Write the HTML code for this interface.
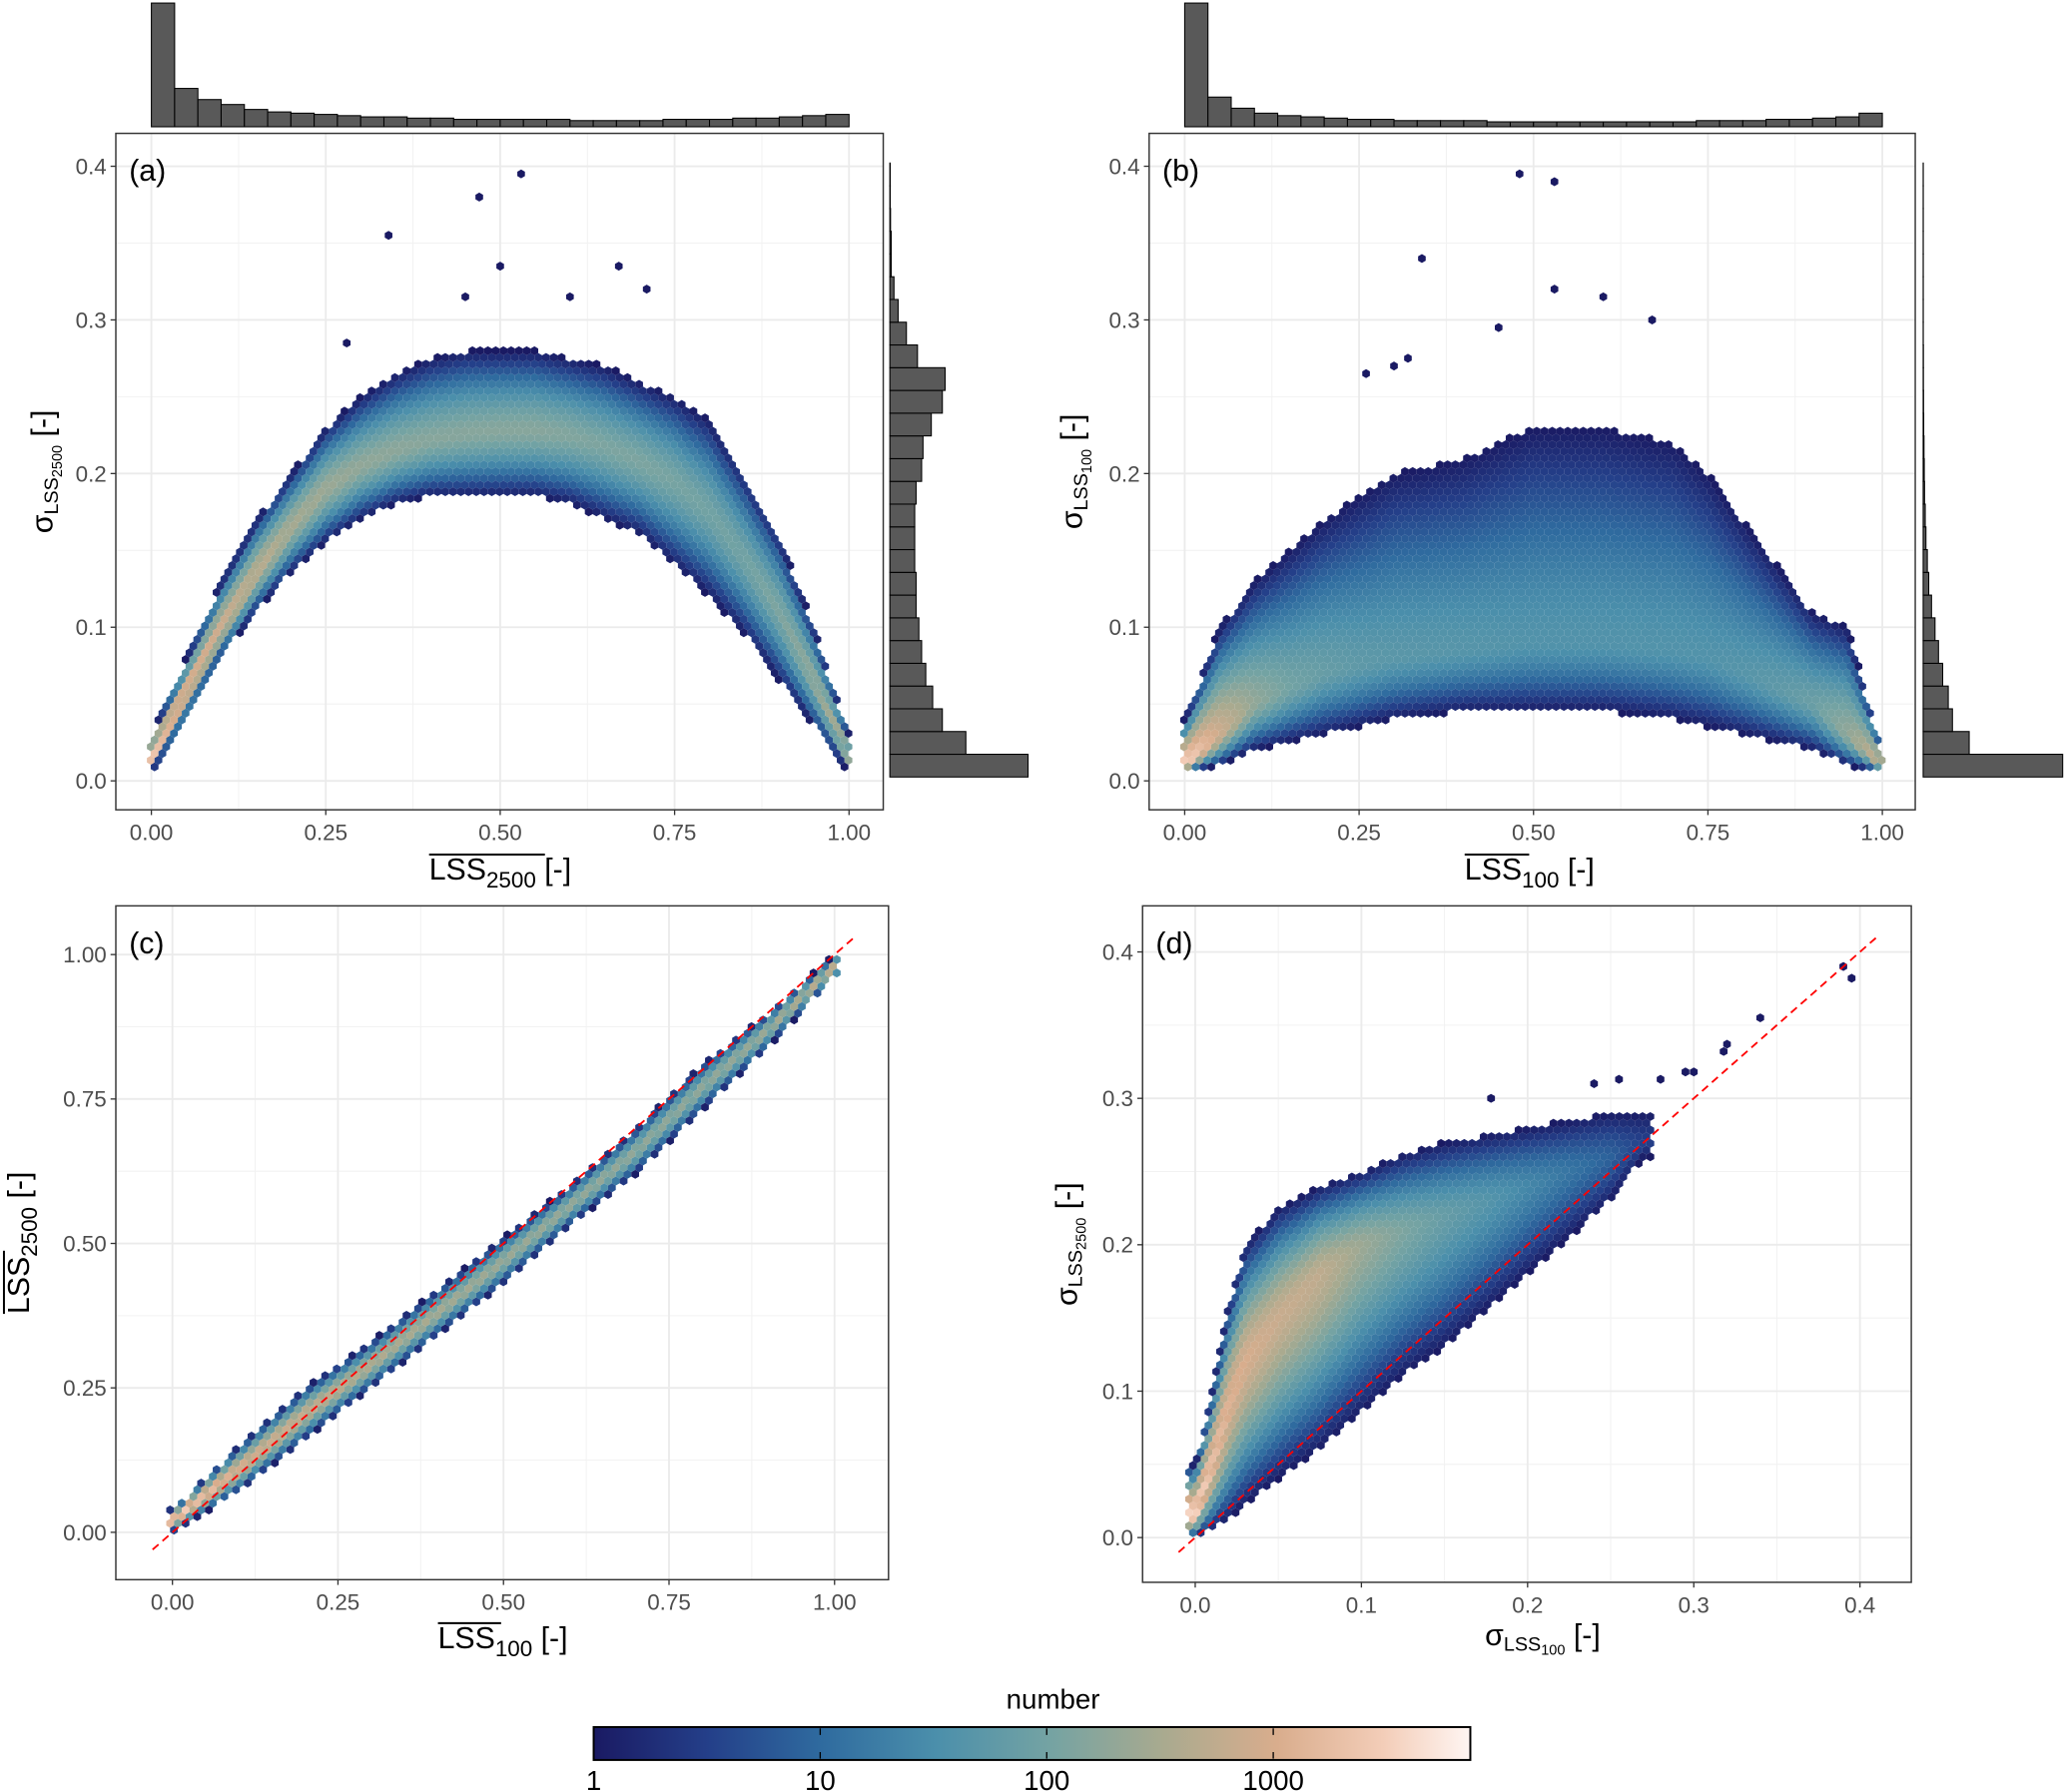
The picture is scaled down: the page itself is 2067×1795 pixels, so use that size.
<!DOCTYPE html>
<html><head><meta charset="utf-8">
<style>
html,body{margin:0;padding:0;background:#fff;}
svg{display:block;font-family:"Liberation Sans",sans-serif;}
.tick{font-size:17px;fill:#4d4d4d;}
.ttl{font-size:22px;fill:#000;}
</style></head>
<body>
<svg id="fig" width="2067" height="1795" viewBox="0 0 1568 1361" xmlns="http://www.w3.org/2000/svg">
<defs>
<linearGradient id="cbg" x1="0" x2="1" y1="0" y2="0">
<stop offset="0" stop-color="#1a1a63"/><stop offset="0.13" stop-color="#243f89"/><stop offset="0.26" stop-color="#2f6b9f"/><stop offset="0.39" stop-color="#4b8fab"/><stop offset="0.52" stop-color="#74a3a3"/><stop offset="0.65" stop-color="#a9aa8f"/><stop offset="0.78" stop-color="#d9ad8d"/><stop offset="0.9" stop-color="#f3cdb8"/><stop offset="1" stop-color="#fff5f2"/>
</linearGradient>
</defs>
<g id="layer"></g>
</svg>
<script>
// ---------- DATA ----------
const aX  = [0,0.05,0.1,0.15,0.2,0.25,0.3,0.35,0.4,0.45,0.5,0.55,0.6,0.65,0.7,0.75,0.8,0.85,0.9,0.95,1.0];
const aLo = [0.005,0.04,0.08,0.11,0.135,0.155,0.17,0.18,0.185,0.185,0.185,0.185,0.18,0.17,0.16,0.14,0.12,0.095,0.065,0.035,0.005];
const aHi = [0.03,0.08,0.13,0.17,0.2,0.23,0.25,0.265,0.275,0.28,0.28,0.28,0.275,0.27,0.26,0.25,0.235,0.2,0.16,0.1,0.03];
const aCe = [0.015,0.058,0.1,0.135,0.165,0.19,0.205,0.215,0.222,0.226,0.228,0.228,0.225,0.218,0.208,0.195,0.175,0.145,0.11,0.065,0.015];
const aPk = [3.5,3.2,2.9,2.7,2.5,2.4,2.3,2.25,2.2,2.2,2.2,2.2,2.15,2.1,2.1,2.05,2.0,2.0,2.1,2.3,2.6];
const aOutX = [0.34,0.47,0.53,0.5,0.67,0.71,0.6,0.45,0.28];
const aOutY = [0.355,0.38,0.395,0.335,0.335,0.32,0.315,0.315,0.285];
const aTop = [1,0.31,0.22,0.18,0.14,0.12,0.11,0.10,0.09,0.08,0.08,0.07,0.07,0.06,0.06,0.06,0.06,0.06,0.05,0.05,0.05,0.05,0.06,0.06,0.06,0.07,0.07,0.08,0.09,0.1];
const aRight = [1,0.55,0.38,0.31,0.26,0.23,0.21,0.19,0.19,0.18,0.18,0.18,0.19,0.23,0.24,0.3,0.38,0.4,0.2,0.12,0.06,0.03,0.01,0.01,0.005,0.003,0.003];
const bX  = [0,0.05,0.1,0.15,0.2,0.25,0.3,0.4,0.5,0.6,0.7,0.75,0.8,0.85,0.9,0.95,1.0];
const bLo = [0.005,0.01,0.02,0.025,0.03,0.035,0.04,0.045,0.045,0.045,0.04,0.035,0.03,0.025,0.02,0.01,0.005];
const bHi = [0.04,0.1,0.13,0.15,0.17,0.185,0.2,0.21,0.23,0.23,0.22,0.2,0.17,0.14,0.11,0.1,0.02];
const bCe = [0.01,0.03,0.05,0.06,0.07,0.075,0.08,0.085,0.09,0.09,0.085,0.08,0.07,0.06,0.05,0.03,0.01];
const bPk = [3.6,2.9,2.3,2.0,1.85,1.75,1.7,1.65,1.6,1.6,1.6,1.6,1.65,1.75,1.9,2.3,2.9];
const bOutX = [0.48,0.53,0.53,0.34,0.6,0.67,0.26,0.3,0.32,0.45];
const bOutY = [0.395,0.39,0.32,0.34,0.315,0.3,0.265,0.27,0.275,0.295];
const bTop = [1,0.24,0.15,0.11,0.09,0.08,0.07,0.06,0.06,0.05,0.05,0.05,0.05,0.04,0.04,0.04,0.04,0.04,0.04,0.04,0.04,0.04,0.05,0.05,0.05,0.06,0.06,0.07,0.08,0.11];
const bRight = [1,0.33,0.21,0.18,0.14,0.11,0.085,0.06,0.04,0.03,0.02,0.015,0.01,0.008,0.006,0.004,0.003,0.002,0.002,0.001,0.001,0.001,0.001,0.001,0.001,0.001,0.001];
const cX  = [0,0.1,0.2,0.3,0.4,0.5,0.6,0.7,0.8,0.9,1.0];
const cLo = [0.0,0.07,0.16,0.25,0.34,0.43,0.53,0.62,0.73,0.84,0.96];
const cHi = [0.04,0.15,0.25,0.33,0.42,0.51,0.6,0.7,0.81,0.9,1.0];
const cCe = [0.02,0.11,0.205,0.29,0.38,0.47,0.565,0.66,0.77,0.87,0.98];
const cPk = [3.6,3.0,2.8,2.6,2.5,2.4,2.35,2.3,2.3,2.4,2.8];
const dX  = [0,0.01,0.02,0.03,0.05,0.075,0.1,0.125,0.15,0.175,0.2,0.225,0.25,0.27];
const dLo = [0.0,0.005,0.012,0.022,0.04,0.06,0.085,0.11,0.13,0.155,0.18,0.205,0.23,0.26];
const dHi = [0.05,0.1,0.16,0.2,0.225,0.24,0.25,0.262,0.27,0.275,0.28,0.285,0.29,0.29];
const dCe = [0.015,0.05,0.09,0.12,0.15,0.18,0.2,0.21,0.22,0.23,0.24,0.25,0.26,0.27];
const dPk = [3.6,3.3,3.1,3.0,2.85,2.75,2.4,2.1,1.85,1.65,1.4,1.15,0.9,0.5];
const dOutX = [0.39,0.395,0.34,0.32,0.318,0.295,0.3,0.28,0.255,0.24,0.178];
const dOutY = [0.39,0.382,0.355,0.337,0.332,0.318,0.318,0.313,0.313,0.31,0.3];
const cbTicks = [1,10,100,1000];
const cbLabels = ["1","10","100","1000"];

// ---------- HELPERS ----------
const NS="http://www.w3.org/2000/svg";
const layer=document.getElementById('layer');
function mk(tag,attrs,parent){const e=document.createElementNS(NS,tag);for(const k in attrs)e.setAttribute(k,attrs[k]);(parent||layer).appendChild(e);return e;}
function lin(d0,d1,p0,p1){const f=v=>p0+(v-d0)*(p1-p0)/(d1-d0);f.inv=p=>d0+(p-p0)*(d1-d0)/(p1-p0);return f;}
function interp(xs,ys,x){if(x<=xs[0])return ys[0];const n=xs.length;if(x>=xs[n-1])return ys[n-1];for(let i=1;i<n;i++){if(x<=xs[i]){const t=(x-xs[i-1])/(xs[i]-xs[i-1]);return ys[i-1]+t*(ys[i]-ys[i-1]);}}}
const stops=[[0,[26,26,99]],[0.13,[36,63,137]],[0.26,[47,107,159]],[0.39,[75,143,171]],[0.52,[116,163,163]],[0.65,[169,170,143]],[0.78,[217,173,141]],[0.9,[243,205,184]],[1,[255,245,242]]];
function cmap(t){t=Math.max(0,Math.min(1,t));for(let i=1;i<stops.length;i++){if(t<=stops[i][0]){const a=stops[i-1],b=stops[i];const u=(t-a[0])/(b[0]-a[0]);const c=a[1].map((v,k)=>Math.round(v+u*(b[1][k]-v)));return `rgb(${c[0]},${c[1]},${c[2]})`;}}return 'rgb(255,245,242)';}
const LOGMAX=3.87;
const R=3.4, HW=Math.sqrt(3)*R;
function hexPath(cx,cy){let s='';for(let k=0;k<6;k++){const a=Math.PI/180*(60*k-90);s+=(k?'L':'M')+(cx+R*Math.cos(a)).toFixed(1)+','+(cy+R*Math.sin(a)).toFixed(1);}return s+'Z';}

function panelFrame(P,name,xt,xl,yt,yl,minorX,minorY){
  const g=mk('g',{});
  
  
  const bg=mk('rect',{x:P.l,y:P.t,width:P.r-P.l,height:P.b-P.t,fill:'#fff'},g);
  
  
  minorX.forEach(v=>{const l=mk('line',{x1:P.x(v),x2:P.x(v),y1:P.t,y2:P.b,stroke:'#f2f2f2','stroke-width':0.8},g);});
  minorY.forEach(v=>{const l=mk('line',{y1:P.y(v),y2:P.y(v),x1:P.l,x2:P.r,stroke:'#f2f2f2','stroke-width':0.8},g);});
  xt.forEach((v,i)=>{const l=mk('line',{x1:P.x(v),x2:P.x(v),y1:P.t,y2:P.b,stroke:'#ebebeb','stroke-width':1.4},g);
    const tk=mk('line',{x1:P.x(v),x2:P.x(v),y1:P.b,y2:P.b+4,stroke:'#333','stroke-width':1},g);
    const t=mk('text',{x:P.x(v),y:P.b+23,'text-anchor':'middle',class:'tick'},g);t.textContent=xl[i];});
  yt.forEach((v,i)=>{const l=mk('line',{y1:P.y(v),y2:P.y(v),x1:P.l,x2:P.r,stroke:'#ebebeb','stroke-width':1.4},g);
    const tk=mk('line',{y1:P.y(v),y2:P.y(v),x1:P.l-4,x2:P.l,stroke:'#333','stroke-width':1},g);
    const t=mk('text',{x:P.l-7,y:P.y(v)+6,'text-anchor':'end',class:'tick'},g);t.textContent=yl[i];});
  return g;
}
function hexes(P,g,xs,lo,hi,ce,pk){
  const hg=mk('g',{},g);
  
  
  let j=0;
  for(let py=P.b-2;py>P.t;py-=1.5*R,j++){
    const off=(j%2)*HW/2;
    for(let px=P.l+off;px<P.r;px+=HW){
      const dx=P.x.inv(px),dy=P.y.inv(py);
      if(dx<xs[0]-0.004||dx>xs[xs.length-1]+0.004)continue;
      const l=interp(xs,lo,dx),u=interp(xs,hi,dx),c=interp(xs,ce,dx);
      if(dy<l||dy>u)continue;
      const d=dy>c?(dy-c)/(u-c):(c-dy)/(c-l);
      const lg=interp(xs,pk,dx)*(1-Math.pow(Math.min(1,d),1.5));
      const h=mk('path',{d:hexPath(px,py),fill:cmap(lg/LOGMAX)},hg);
      
      
    }
  }
}
function outliers(P,g,xs,ys){
  xs.forEach((v,i)=>{const h=mk('path',{d:hexPath(P.x(v),P.y(ys[i])),fill:'#1a1a63'},g);
    
    });
}
function border(P,g,label){
  const b=mk('rect',{x:P.l,y:P.t,width:P.r-P.l,height:P.b-P.t,fill:'none',stroke:'#333','stroke-width':1.1},g);
  
  
  const t=mk('text',{x:P.l+10,y:P.t+36,'font-size':23},g);t.textContent=label;
  
  
}
function topHist(P,vals,y0,y1,name){
  const g=mk('g',{});
  const n=vals.length;const sc=lin(0,1,y1,y0);
  vals.forEach((v,i)=>{const x0=P.x(i/n),x1=P.x((i+1)/n);
    const r=mk('rect',{x:x0,y:sc(v),width:x1-x0,height:y1-sc(v),fill:'#595959',stroke:'#000','stroke-width':0.8},g);
    });
}
function rightHist(P,vals,x0,x1,name){
  const g=mk('g',{});
  const w=0.0148,start=0.0025;const sc=lin(0,1,x0,x1);
  vals.forEach((v,i)=>{const ya=P.y(start+i*w),yb=P.y(start+(i+1)*w);
    const r=mk('rect',{x:x0,y:yb,width:sc(v)-x0,height:ya-yb,fill:'#595959',stroke:'#000','stroke-width':0.8},g);
    });
}
function xTitle(cx,cy,main,sub,over,sigma,name){
  const g=mk('g',{});
  const t=mk('text',{x:cx,y:cy,'text-anchor':'middle','font-size':23},g);
  if(sigma){const s=mk('tspan',{},t);s.textContent='σ';const a=mk('tspan',{'font-size':15,dy:4},t);a.textContent='LSS';const b=mk('tspan',{'font-size':11,dy:3},t);b.textContent=sub;const c=mk('tspan',{'font-size':23,dy:-7},t);c.textContent=' [-]';}
  else{const a=mk('tspan',{},t);a.textContent=main;const b=mk('tspan',{'font-size':17,dy:6},t);b.textContent=sub;const c=mk('tspan',{'font-size':23,dy:-6},t);c.textContent=' [-]';}
  if(over){const bb=t.getBBox();const l=mk('line',{x1:bb.x,x2:bb.x+over,y1:cy-19,y2:cy-19,stroke:'#000','stroke-width':1.5},g);}
}
function yTitle(cx,cy,sub,over,name){
  const g=mk('g',{transform:`translate(${cx},${cy}) rotate(-90)`});
  const t=mk('text',{x:0,y:0,'text-anchor':'middle','font-size':23},g);
  if(over){const a=mk('tspan',{},t);a.textContent='LSS';const b=mk('tspan',{'font-size':17,dy:6},t);b.textContent=sub;const c=mk('tspan',{'font-size':23,dy:-6},t);c.textContent=' [-]';
    const bb=t.getBBox();const l=mk('line',{x1:bb.x,x2:bb.x+over,y1:-19,y2:-19,stroke:'#000','stroke-width':1.5},g);}
  else{const s=mk('tspan',{},t);s.textContent='σ';const a=mk('tspan',{'font-size':15,dy:4},t);a.textContent='LSS';const b=mk('tspan',{'font-size':11,dy:3},t);b.textContent=sub;const c=mk('tspan',{'font-size':23,dy:-7},t);c.textContent=' [-]';}
}
function dashed(P,g,v0,v1){
  const l=mk('line',{x1:P.x(v0),y1:P.y(v0),x2:P.x(v1),y2:P.y(v1),stroke:'#ff0000','stroke-width':1.4,'stroke-dasharray':'6,4'},g);
  
  
}

const t01=[0,0.25,0.5,0.75,1], l01=["0.00","0.25","0.50","0.75","1.00"], m01=[0.125,0.375,0.625,0.875];
const t04=[0,0.1,0.2,0.3,0.4], l04=["0.0","0.1","0.2","0.3","0.4"], m04=[0.05,0.15,0.25,0.35];

const PA={l:88,r:671,t:101,b:615,x:lin(0,1,115,645),y:lin(0,0.4,593,126)};
let g=panelFrame(PA,'panel-a',t01,l01,t04,l04,m01,m04);
hexes(PA,g,aX,aLo,aHi,aCe,aPk);outliers(PA,g,aOutX,aOutY);border(PA,g,'(a)');
topHist(PA,aTop,2,96,'top-histogram-a');rightHist(PA,aRight,676,781,'right-histogram-a');
xTitle(380,668,'LSS','2500',88,false,'x-axis-title-a');yTitle(40,358,'2500',false,'y-axis-title-a');

const PB={l:873,r:1455,t:101,b:615,x:lin(0,1,900,1430),y:lin(0,0.4,593,126)};
g=panelFrame(PB,'panel-b',t01,l01,t04,l04,m01,m04);
hexes(PB,g,bX,bLo,bHi,bCe,bPk);outliers(PB,g,bOutX,bOutY);border(PB,g,'(b)');
topHist(PB,bTop,2,96,'top-histogram-b');rightHist(PB,bRight,1461,1567,'right-histogram-b');
xTitle(1162,668,'LSS','100',49,false,'x-axis-title-b');yTitle(822,358,'100',false,'y-axis-title-b');

const PC={l:88,r:675,t:688,b:1200,x:lin(0,1,131,634),y:lin(0,1,1164,725)};
g=panelFrame(PC,'panel-c',t01,l01,t01,l01,m01,m01);
hexes(PC,g,cX,cLo,cHi,cCe,cPk);dashed(PC,g,-0.03,1.03);border(PC,g,'(c)');
xTitle(382,1252,'LSS','100',48,false,'x-axis-title-c');yTitle(22,944,'2500',48,'y-axis-title-c');

const PD={l:868,r:1452,t:688,b:1202,x:lin(0,0.4,908,1413),y:lin(0,0.4,1168,723)};
g=panelFrame(PD,'panel-d',t04,l04,t04,l04,m04,m04);
hexes(PD,g,dX,dLo,dHi,dCe,dPk);outliers(PD,g,dOutX,dOutY);dashed(PD,g,-0.01,0.41);border(PD,g,'(d)');
xTitle(1172,1250,'','100',0,true,'x-axis-title-d');yTitle(818,945,'2500',false,'y-axis-title-d');

const cbx=lin(0,LOGMAX,451,1117);
const cg=mk('g',{});
const cr=mk('rect',{x:451,y:1312,width:666,height:25,fill:'url(#cbg)',stroke:'#000','stroke-width':1.5},cg);

const ct=mk('text',{x:800,y:1298,'text-anchor':'middle','font-size':21},cg);ct.textContent='number';

cbTicks.forEach((v,i)=>{const x=cbx(Math.log10(v));
  if(i>0){const a=mk('line',{x1:x,x2:x,y1:1313,y2:1318,stroke:'#000','stroke-width':1},cg);
  const b=mk('line',{x1:x,x2:x,y1:1331,y2:1336,stroke:'#000','stroke-width':1},cg);}
  const t=mk('text',{x:x,y:1360,'text-anchor':'middle','font-size':21},cg);t.textContent=cbLabels[i];
  });
</script>
</body></html>
